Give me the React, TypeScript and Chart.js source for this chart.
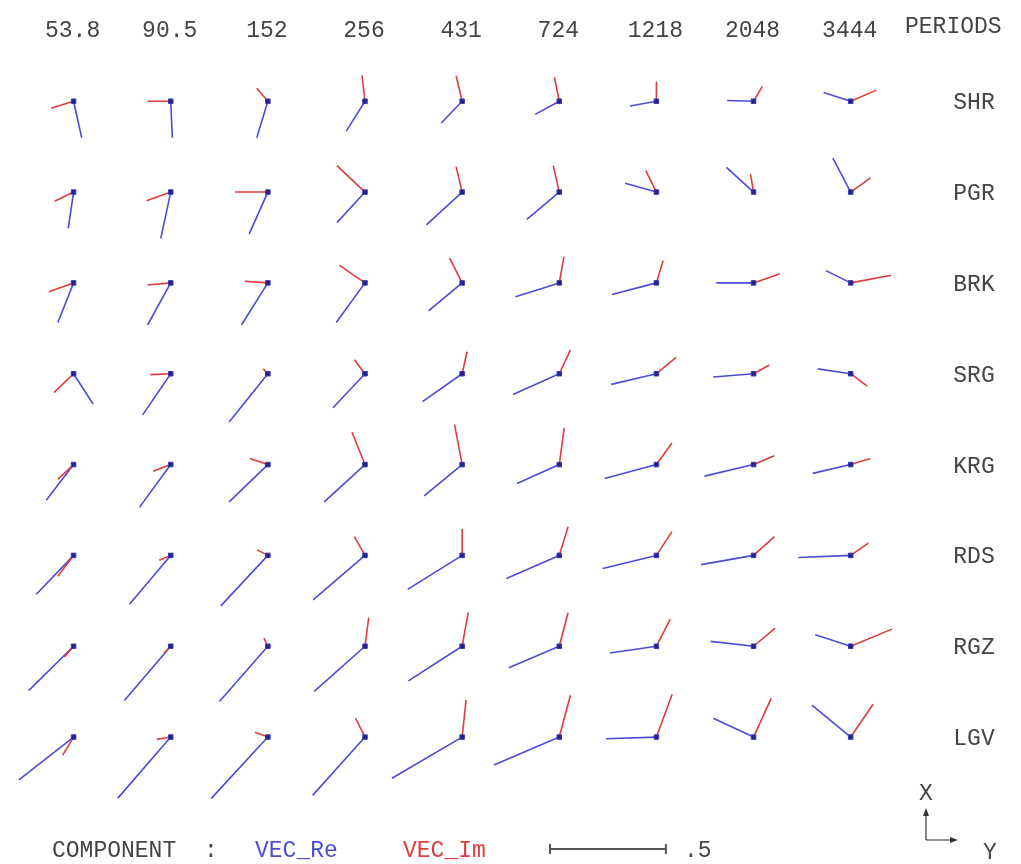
import React, { useEffect, useRef } from 'react';
import { Chart, registerables } from 'chart.js';

Chart.register(...registerables);

const PERIODS = ['53.8', '90.5', '152', '256', '431', '724', '1218', '2048', '3444'];
const STATIONS = ['SHR', 'PGR', 'BRK', 'SRG', 'KRG', 'RDS', 'RGZ', 'LGV'];

// Real induction vector: Y (east) component, rows = stations, columns = periods
const RE_Y = [
  [0.035, 0.007, -0.048, -0.081, -0.090, -0.104, -0.114, -0.114, -0.117],
  [-0.023, -0.043, -0.081, -0.121, -0.154, -0.140, -0.135, -0.117, -0.077],
  [-0.068, -0.100, -0.114, -0.124, -0.145, -0.189, -0.192, -0.161, -0.107],
  [0.084, -0.121, -0.167, -0.138, -0.171, -0.200, -0.195, -0.174, -0.142],
  [-0.118, -0.135, -0.167, -0.176, -0.164, -0.182, -0.224, -0.212, -0.164],
  [-0.161, -0.178, -0.203, -0.224, -0.235, -0.228, -0.232, -0.226, -0.226],
  [-0.194, -0.200, -0.209, -0.219, -0.232, -0.218, -0.200, -0.185, -0.153],
  [-0.236, -0.228, -0.245, -0.226, -0.303, -0.282, -0.218, -0.174, -0.167],
];
// Real induction vector: X (north) component
const RE_X = [
  [-0.158, -0.158, -0.158, -0.129, -0.094, -0.057, -0.021, 0.003, 0.038],
  [-0.157, -0.200, -0.182, -0.132, -0.142, -0.118, 0.038, 0.107, 0.147],
  [-0.171, -0.182, -0.182, -0.171, -0.121, -0.060, -0.050, 0.000, 0.053],
  [-0.131, -0.178, -0.209, -0.147, -0.121, -0.090, -0.046, -0.014, 0.021],
  [-0.154, -0.185, -0.161, -0.161, -0.135, -0.082, -0.060, -0.050, -0.038],
  [-0.168, -0.211, -0.218, -0.192, -0.147, -0.100, -0.057, -0.040, -0.009],
  [-0.192, -0.235, -0.239, -0.195, -0.150, -0.093, -0.029, 0.021, 0.050],
  [-0.185, -0.264, -0.266, -0.252, -0.178, -0.121, -0.007, 0.081, 0.138],
];
// Imaginary induction vector: Y (east) component
const IM_Y = [
  [-0.097, -0.100, -0.048, -0.013, -0.026, -0.021, 0.000, 0.038, 0.111],
  [-0.082, -0.104, -0.142, -0.121, -0.026, -0.026, -0.046, -0.013, 0.085],
  [-0.107, -0.100, -0.100, -0.110, -0.054, 0.020, 0.029, 0.114, 0.175],
  [-0.085, -0.088, -0.020, -0.046, 0.021, 0.048, 0.085, 0.068, 0.071],
  [-0.068, -0.076, -0.078, -0.056, -0.033, 0.021, 0.067, 0.090, 0.085],
  [-0.068, -0.050, -0.046, -0.046, 0.000, 0.038, 0.067, 0.090, 0.076],
  [-0.040, -0.029, -0.017, 0.016, 0.026, 0.038, 0.060, 0.093, 0.178],
  [-0.047, -0.060, -0.056, -0.041, 0.017, 0.048, 0.068, 0.076, 0.097],
];
// Imaginary induction vector: X (north) component
const IM_X = [
  [-0.030, 0.000, 0.056, 0.112, 0.110, 0.103, 0.084, 0.064, 0.048],
  [-0.040, -0.038, 0.000, 0.114, 0.110, 0.114, 0.093, 0.078, 0.061],
  [-0.038, -0.009, 0.007, 0.076, 0.107, 0.114, 0.097, 0.040, 0.033],
  [-0.082, -0.004, 0.021, 0.060, 0.095, 0.103, 0.071, 0.038, -0.054],
  [-0.064, -0.029, 0.026, 0.140, 0.174, 0.159, 0.093, 0.038, 0.026],
  [-0.090, -0.021, 0.024, 0.081, 0.114, 0.124, 0.103, 0.081, 0.053],
  [-0.046, -0.029, 0.035, 0.124, 0.145, 0.145, 0.117, 0.078, 0.074],
  [-0.078, -0.010, 0.021, 0.082, 0.161, 0.181, 0.185, 0.167, 0.142],
];

const SCALE_BAR = 0.5;

// layout (in arrow units)
const COL_STEP = 0.4192;
const ROW_STEP = 0.3927;
const X_MIN = -0.296;
const X_MAX = 4.067;
const Y_MAX = 0.416;
const Y_MIN = -3.276;

const BLUE = '#4c4cd4';
const RED = '#e03c3c';
const TEXT = '#444444';
const FONT = '"Liberation Mono", "DejaVu Sans Mono", monospace';

function segments(ys: number[][], xs: number[][]) {
  const pts: { x: number; y: number | null }[] = [];
  STATIONS.forEach((_, j) => {
    PERIODS.forEach((_, i) => {
      const cx = i * COL_STEP;
      const cy = -j * ROW_STEP;
      pts.push({ x: cx, y: cy });
      pts.push({ x: cx + ys[j][i], y: cy + xs[j][i] });
      pts.push({ x: cx, y: null });
    });
  });
  return pts;
}

function centers() {
  const pts: { x: number; y: number }[] = [];
  STATIONS.forEach((_, j) => {
    PERIODS.forEach((_, i) => pts.push({ x: i * COL_STEP, y: -j * ROW_STEP }));
  });
  return pts;
}

const labelPlugin = {
  id: 'arrowLabels',
  afterDatasetsDraw(chart: any) {
    const { ctx } = chart;
    const xs = chart.scales.x;
    const ys = chart.scales.y;
    ctx.save();
    ctx.font = `23px ${FONT}`;
    ctx.textBaseline = 'middle';
    ctx.fillStyle = TEXT;
    ctx.textAlign = 'center';
    PERIODS.forEach((p, i) => ctx.fillText(p, xs.getPixelForValue(i * COL_STEP) - 1, 31));
    ctx.textAlign = 'left';
    ctx.fillText('PERIODS', 905, 27);
    ctx.textAlign = 'center';
    STATIONS.forEach((s, j) => ctx.fillText(s, 974, ys.getPixelForValue(-j * ROW_STEP) + 2));

    // legend row
    const ly = 851;
    ctx.textAlign = 'left';
    ctx.fillText('COMPONENT', 52, ly);
    ctx.fillText(':', 204, ly);
    ctx.fillStyle = BLUE;
    ctx.fillText('VEC_Re', 255, ly);
    ctx.fillStyle = RED;
    ctx.fillText('VEC_Im', 403, ly);
    ctx.fillStyle = TEXT;
    ctx.fillText('.5', 684, ly);

    // scale bar
    const bx0 = 550;
    const blen = xs.getPixelForValue(SCALE_BAR) - xs.getPixelForValue(0);
    const by = 849;
    ctx.strokeStyle = '#555';
    ctx.lineWidth = 2;
    ctx.beginPath();
    ctx.moveTo(bx0, by);
    ctx.lineTo(bx0 + blen, by);
    ctx.moveTo(bx0, by - 5);
    ctx.lineTo(bx0, by + 5);
    ctx.moveTo(bx0 + blen, by - 5);
    ctx.lineTo(bx0 + blen, by + 5);
    ctx.stroke();

    // orientation indicator
    const ox = 926;
    const oy = 840;
    ctx.lineWidth = 1.2;
    ctx.strokeStyle = '#333';
    ctx.fillStyle = '#333';
    ctx.beginPath();
    ctx.moveTo(ox, oy);
    ctx.lineTo(ox, oy - 28);
    ctx.moveTo(ox, oy);
    ctx.lineTo(ox + 28, oy);
    ctx.stroke();
    ctx.beginPath();
    ctx.moveTo(ox, oy - 32);
    ctx.lineTo(ox - 3, oy - 24);
    ctx.lineTo(ox + 3, oy - 24);
    ctx.closePath();
    ctx.fill();
    ctx.beginPath();
    ctx.moveTo(ox + 32, oy);
    ctx.lineTo(ox + 24, oy - 3);
    ctx.lineTo(ox + 24, oy + 3);
    ctx.closePath();
    ctx.fill();
    ctx.fillStyle = TEXT;
    ctx.textAlign = 'center';
    ctx.fillText('X', ox, 794);
    ctx.fillText('Y', 990, 853);
    ctx.restore();
  },
};

export default function App() {
  const ref = useRef<HTMLCanvasElement | null>(null);
  useEffect(() => {
    if (!ref.current) return;
    const chart = new Chart(ref.current, {
      type: 'line',
      data: {
        datasets: [
          {
            label: 'center',
            data: centers(),
            showLine: false,
            pointStyle: 'rect',
            pointRadius: 3.2,
            pointBackgroundColor: '#22228a',
            pointBorderColor: '#3a3ab0',
            pointBorderWidth: 1,
            order: 0,
          },
          {
            label: 'VEC_Im',
            data: segments(IM_Y, IM_X),
            borderColor: RED,
            borderWidth: 1.6,
            pointRadius: 0,
            spanGaps: false,
            tension: 0,
            order: 1,
          },
          {
            label: 'VEC_Re',
            data: segments(RE_Y, RE_X),
            borderColor: BLUE,
            borderWidth: 1.6,
            pointRadius: 0,
            spanGaps: false,
            tension: 0,
            order: 2,
          },
        ] as any,
      },
      options: {
        animation: false,
        responsive: false,
        layout: { padding: 0 },
        plugins: { legend: { display: false }, tooltip: { enabled: false } },
        scales: {
          x: { type: 'linear', min: X_MIN, max: X_MAX, display: false },
          y: { type: 'linear', min: Y_MIN, max: Y_MAX, display: false },
        },
      },
      plugins: [labelPlugin],
    });
    return () => chart.destroy();
  }, []);
  return (
    <div style={{ position: 'absolute', left: 0, top: 0, width: 1021, height: 864, background: '#fff' }}>
      <canvas ref={ref} width={1021} height={864} style={{ display: 'block' }} />
    </div>
  );
}
